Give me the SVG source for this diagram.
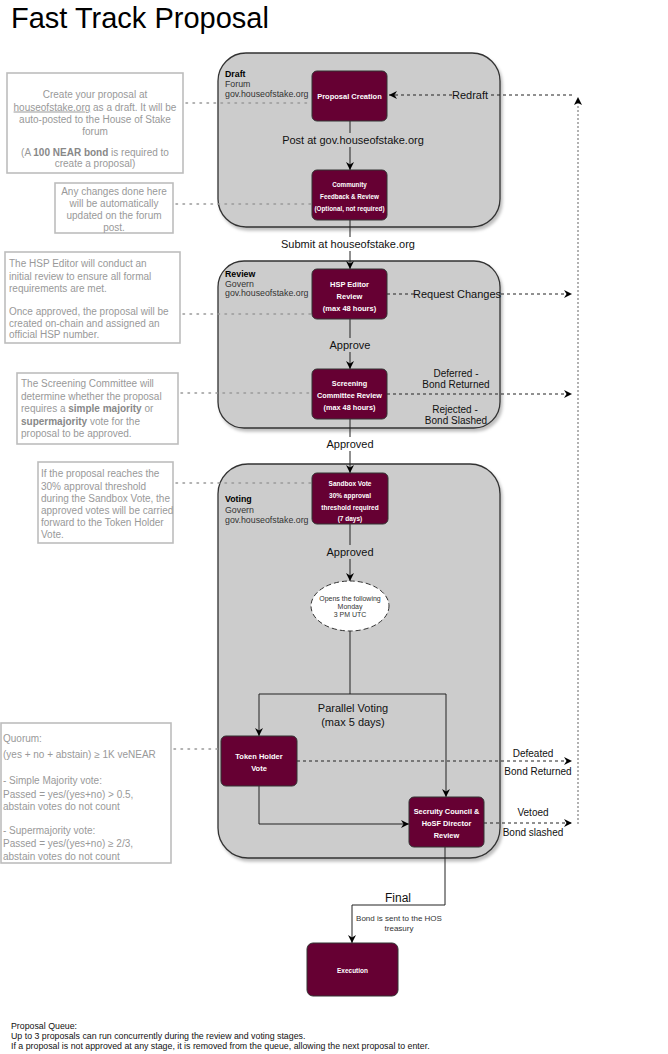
<svg xmlns="http://www.w3.org/2000/svg" width="668" height="1054" viewBox="0 0 668 1054">
<defs>
<marker id="arr" markerUnits="userSpaceOnUse" markerWidth="9" markerHeight="9" refX="8" refY="4" orient="auto">
<path d="M0,0 L8,4 L0,8 L2.5,4 z" fill="#000"/>
</marker>
<filter id="sh" x="-5%" y="-5%" width="115%" height="115%">
<feDropShadow dx="2" dy="3" stdDeviation="1.5" flood-color="#000" flood-opacity="0.25"/>
</filter>
</defs>
<style>
text{font-family:"Liberation Sans",Arial,sans-serif;}
.cont{fill:#cccccc;stroke:#333;stroke-width:1.3;}
.node{fill:#660033;stroke:#333;stroke-width:1;}
.nt{fill:#fff;font-weight:bold;text-anchor:middle;}
.cl{font-size:8.8px;fill:#333;}
.clb{font-size:8.8px;font-weight:bold;fill:#000;}
.note{fill:#fff;stroke:#bdbdbd;stroke-width:1.6;}
.ntx{font-size:10px;fill:#999;}
.ntb{font-weight:bold;fill:#888;}
.line{fill:none;stroke:#222;stroke-width:1;}
.dash{fill:none;stroke:#222;stroke-width:1;stroke-dasharray:3 3;}
.dot{fill:none;stroke:#999;stroke-width:1.5;stroke-dasharray:1.5 5.5;stroke-linecap:round;}
.vdot{fill:none;stroke:#999;stroke-width:1.5;stroke-dasharray:2 2;}
.lbl{font-size:11px;fill:#111;text-anchor:middle;}
.lbs{font-size:10px;fill:#111;text-anchor:middle;}
.ft{font-size:8.8px;fill:#111;}
</style>
<rect width="668" height="1054" fill="#fff"/>
<text x="11" y="28" font-size="29" fill="#000">Fast Track Proposal</text>

<g id="container-draft">
<rect class="cont" x="218" y="53" width="282" height="174" rx="28" filter="url(#sh)"/>
<text class="clb" x="225" y="77">Draft</text>
<text class="cl" x="225" y="87">Forum</text>
<text class="cl" x="225" y="97">gov.houseofstake.org</text>
</g>
<g id="container-review">
<rect class="cont" x="218" y="261" width="282" height="167" rx="26" filter="url(#sh)"/>
<text class="clb" x="225" y="277">Review</text>
<text class="cl" x="225" y="287">Govern</text>
<text class="cl" x="225" y="296">gov.houseofstake.org</text>
</g>
<g id="container-voting">
<rect class="cont" x="218" y="464" width="282" height="394" rx="30" filter="url(#sh)"/>
<text class="clb" x="225" y="502">Voting</text>
<text class="cl" x="225" y="513">Govern</text>
<text class="cl" x="225" y="523">gov.houseofstake.org</text>
</g>

<g id="connectors">
<line class="line" x1="350" y1="121" x2="350" y2="170" marker-end="url(#arr)"/>
<line class="line" x1="350" y1="220" x2="350" y2="269" marker-end="url(#arr)"/>
<line class="line" x1="350" y1="319" x2="350" y2="369" marker-end="url(#arr)"/>
<line class="line" x1="350" y1="419" x2="350" y2="473" marker-end="url(#arr)"/>
<line class="line" x1="350" y1="524" x2="350" y2="581" marker-end="url(#arr)"/>
<polyline class="line" points="350,631 350,694 259,694 259,736" marker-end="url(#arr)"/>
<polyline class="line" points="350,694 446,694 446,797" marker-end="url(#arr)"/>
<polyline class="line" points="259,786 259,824 409,824" marker-end="url(#arr)"/>
<polyline class="line" points="445,847 445,905 352,905 352,943" marker-end="url(#arr)"/>
<line class="dash" x1="387" y1="294" x2="572" y2="294" marker-end="url(#arr)"/>
<line class="dash" x1="387" y1="394" x2="572" y2="394" marker-end="url(#arr)"/>
<line class="dash" x1="297" y1="761" x2="572" y2="761" marker-end="url(#arr)"/>
<line class="dash" x1="484" y1="823" x2="572" y2="823" marker-end="url(#arr)"/>
<line class="dash" x1="572" y1="95" x2="389" y2="95" marker-end="url(#arr)"/>
<line class="vdot" x1="578" y1="824" x2="578" y2="99"/>
<path d="M578,97 L582,105 L578,103 L574,105 z" fill="#000"/>
<line class="dot" x1="186" y1="103" x2="311" y2="103"/>
<line class="dot" x1="176" y1="204" x2="311" y2="204"/>
<line class="dot" x1="183" y1="314" x2="311" y2="314"/>
<line class="dot" x1="181" y1="393" x2="311" y2="393"/>
<line class="dot" x1="176" y1="483" x2="311" y2="483"/>
<line class="dot" x1="174" y1="749" x2="220" y2="749"/>
<rect x="282" y="133" width="142" height="14" fill="#cccccc"/>
<text class="lbl" x="353" y="144">Post at gov.houseofstake.org</text>
<rect x="280" y="237" width="136" height="14" fill="#fff"/>
<text class="lbl" x="348" y="248">Submit at houseofstake.org</text>
<rect x="329" y="338" width="42" height="14" fill="#cccccc"/>
<text class="lbl" x="350" y="349">Approve</text>
<rect x="326" y="437" width="48" height="14" fill="#fff"/>
<text class="lbl" x="350" y="448">Approved</text>
<rect x="326" y="545" width="48" height="14" fill="#cccccc"/>
<text class="lbl" x="350" y="556">Approved</text>
<rect x="452" y="88" width="36" height="14" fill="#cccccc"/>
<text class="lbl" x="470" y="99">Redraft</text>
<rect x="417" y="287" width="81" height="14" fill="#cccccc"/>
<text class="lbl" x="457" y="298">Request Changes</text>
<text class="lbs" x="456" y="377">Deferred -</text>
<text class="lbs" x="456" y="388">Bond Returned</text>
<text class="lbs" x="455" y="413">Rejected -</text>
<text class="lbs" x="456" y="424">Bond Slashed</text>
<text class="lbl" x="353" y="712">Parallel Voting</text>
<text class="lbl" x="353" y="726">(max 5 days)</text>
<text class="lbs" x="533" y="757">Defeated</text>
<text class="lbs" x="538" y="775">Bond Returned</text>
<text class="lbs" x="533" y="816">Vetoed</text>
<text class="lbs" x="533" y="836">Bond slashed</text>
<text x="398" y="902" font-size="12" fill="#111" text-anchor="middle">Final</text>
<text x="399" y="921" font-size="8" fill="#333" text-anchor="middle">Bond is sent to the HOS</text>
<text x="399" y="931" font-size="8" fill="#333" text-anchor="middle">treasury</text>
</g>

<g id="node-proposal-creation">
<rect class="node" x="312" y="71" width="75" height="50" rx="5"/>
<text class="nt" x="349.5" y="99" font-size="7.5">Proposal Creation</text>
</g>
<g id="node-community-feedback">
<rect class="node" x="312" y="170" width="75" height="50" rx="5"/>
<text class="nt" x="349.5" y="187" font-size="6.3">Community</text>
<text class="nt" x="349.5" y="199" font-size="6.3">Feedback &amp; Review</text>
<text class="nt" x="349.5" y="211" font-size="6.3">(Optional, not required)</text>
</g>
<g id="node-hsp-editor">
<rect class="node" x="312" y="269" width="75" height="50" rx="5"/>
<text class="nt" x="349.5" y="287" font-size="7.5">HSP Editor</text>
<text class="nt" x="349.5" y="299" font-size="7.5">Review</text>
<text class="nt" x="349.5" y="311" font-size="7.5">(max 48 hours)</text>
</g>
<g id="node-screening">
<rect class="node" x="312" y="369" width="75" height="50" rx="5"/>
<text class="nt" x="349.5" y="386" font-size="7.3">Screening</text>
<text class="nt" x="349.5" y="398" font-size="7.3">Committee Review</text>
<text class="nt" x="349.5" y="410" font-size="7.3">(max 48 hours)</text>
</g>
<g id="node-sandbox">
<rect class="node" x="312" y="473" width="76" height="51" rx="5"/>
<text class="nt" x="350" y="485.5" font-size="6.5">Sandbox Vote</text>
<text class="nt" x="350" y="497.5" font-size="6.5">30% approval</text>
<text class="nt" x="350" y="509.5" font-size="6.5">threshold required</text>
<text class="nt" x="350" y="521" font-size="6.5">(7 days)</text>
</g>
<g id="node-opens">
<ellipse cx="350" cy="606" rx="39" ry="25" fill="#fff" stroke="#333" stroke-width="1" stroke-dasharray="5 3"/>
<text x="350" y="600.5" font-size="7" fill="#333" text-anchor="middle">Opens the following</text>
<text x="350" y="608.5" font-size="7" fill="#333" text-anchor="middle">Monday</text>
<text x="350" y="617" font-size="7" fill="#333" text-anchor="middle">3 PM UTC</text>
</g>
<g id="node-token-holder">
<rect class="node" x="221" y="736" width="76" height="50" rx="5"/>
<text class="nt" x="259" y="758.5" font-size="7.5">Token Holder</text>
<text class="nt" x="259" y="770.5" font-size="7.5">Vote</text>
</g>
<g id="node-security-council">
<rect class="node" x="409" y="797" width="75" height="50" rx="5"/>
<text class="nt" x="446.5" y="813.5" font-size="7.4">Secruity Council &amp;</text>
<text class="nt" x="446.5" y="825.5" font-size="7.4">HoSF Director</text>
<text class="nt" x="446.5" y="837.5" font-size="7.4">Review</text>
</g>
<g id="node-execution">
<rect class="node" x="307" y="943" width="91" height="53" rx="6"/>
<text class="nt" x="352.5" y="972.5" font-size="6.5">Execution</text>
</g>

<g id="note-draft">
<rect class="note" x="7" y="73" width="176" height="100"/>
<text class="ntx" x="95" y="97.5" text-anchor="middle">Create your proposal at</text>
<text class="ntx" x="95" y="110.5" text-anchor="middle"><tspan text-decoration="underline">houseofstake.org</tspan> as a draft. It will be</text>
<text class="ntx" x="95" y="122.5" text-anchor="middle">auto-posted to the House of Stake</text>
<text class="ntx" x="95" y="134.5" text-anchor="middle">forum</text>
<text class="ntx" x="95" y="155.5" text-anchor="middle">(A <tspan class="ntb">100 NEAR bond</tspan> is required to</text>
<text class="ntx" x="95" y="167" text-anchor="middle">create a proposal)</text>
</g>
<g id="note-changes">
<rect class="note" x="55" y="183" width="118" height="50"/>
<text class="ntx" x="114" y="194.5" text-anchor="middle">Any changes done here</text>
<text class="ntx" x="114" y="206.5" text-anchor="middle">will be automatically</text>
<text class="ntx" x="114" y="218.5" text-anchor="middle">updated on the forum</text>
<text class="ntx" x="114" y="230.5" text-anchor="middle">post.</text>
</g>
<g id="note-hsp">
<rect class="note" x="5" y="252" width="175" height="91"/>
<text class="ntx" x="9" y="267">The HSP Editor will conduct an</text>
<text class="ntx" x="9" y="279.5">initial review to ensure all formal</text>
<text class="ntx" x="9" y="291.5">requirements are met.</text>
<text class="ntx" x="9" y="314.5">Once approved, the proposal will be</text>
<text class="ntx" x="9" y="326.5">created on-chain and assigned an</text>
<text class="ntx" x="9" y="338">official HSP number.</text>
</g>
<g id="note-screening">
<rect class="note" x="17" y="373" width="161" height="71"/>
<text class="ntx" x="21" y="387">The Screening Committee will</text>
<text class="ntx" x="21" y="399.5">determine whether the proposal</text>
<text class="ntx" x="21" y="412">requires a <tspan class="ntb">simple majority</tspan> or</text>
<text class="ntx" x="21" y="424.5"><tspan class="ntb">supermajority</tspan> vote for the</text>
<text class="ntx" x="21" y="437">proposal to be approved.</text>
</g>
<g id="note-sandbox">
<rect class="note" x="38" y="462" width="135" height="81"/>
<text class="ntx" x="41" y="477">If the proposal reaches the</text>
<text class="ntx" x="41" y="489.5">30% approval threshold</text>
<text class="ntx" x="41" y="501.5">during the Sandbox Vote, the</text>
<text class="ntx" x="41" y="513.5">approved votes will be carried</text>
<text class="ntx" x="41" y="525.5">forward to the Token Holder</text>
<text class="ntx" x="41" y="537.5">Vote.</text>
</g>
<g id="note-quorum">
<rect class="note" x="1" y="723" width="170" height="140"/>
<text class="ntx" x="3" y="741.5">Quorum:</text>
<text class="ntx" x="3" y="757.5">(yes + no + abstain) ≥ 1K veNEAR</text>
<text class="ntx" x="3" y="783.5">- Simple Majority vote:</text>
<text class="ntx" x="3" y="797.5">Passed = yes/(yes+no) &gt; 0.5,</text>
<text class="ntx" x="3" y="809.5">abstain votes do not count</text>
<text class="ntx" x="3" y="833.5">- Supermajority vote:</text>
<text class="ntx" x="3" y="846.5">Passed = yes/(yes+no) ≥ 2/3,</text>
<text class="ntx" x="3" y="859.5">abstain votes do not count</text>
</g>

<g id="footer">
<text class="ft" x="11" y="1029">Proposal Queue:</text>
<text class="ft" x="11" y="1039">Up to 3 proposals can run concurrently during the review and voting stages.</text>
<text class="ft" x="11" y="1049">If a proposal is not approved at any stage, it is removed from the queue, allowing the next proposal to enter.</text>
</g>
</svg>
